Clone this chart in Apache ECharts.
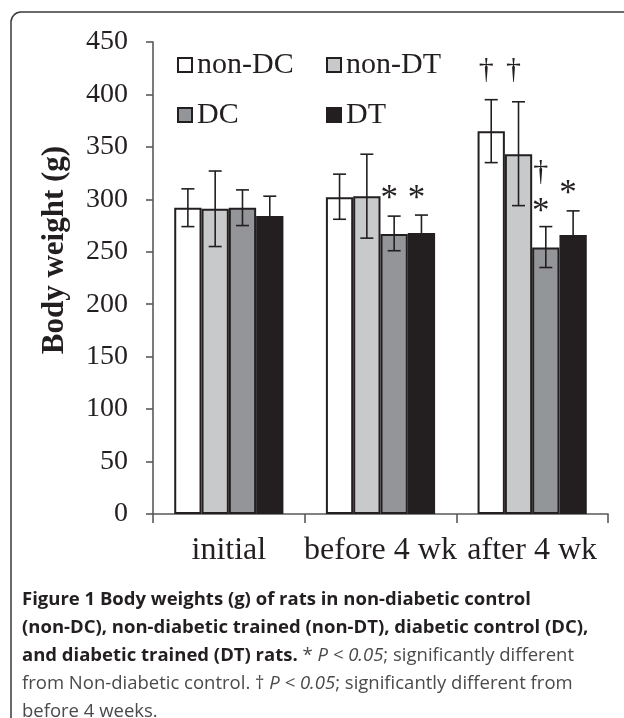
<!DOCTYPE html>
<html>
<head>
<meta charset="utf-8">
<script src="https://cdn.jsdelivr.net/npm/echarts@6/dist/echarts.min.js"></script>
<style>
  html, body { margin: 0; padding: 0; background: #fff; }
  #main { width: 624px; height: 718px; }
</style>
</head>
<body>
<div id="main"></div>
<script>
var categories = ['initial', 'before 4 wk', 'after 4 wk'];
var groups = ['non-DC', 'non-DT', 'DC', 'DT'];
var colors = ['#ffffff', '#c8c9cb', '#939598', '#231f20'];

// mean body weight (g)
var nonDC = [292, 302, 365];
var nonDT = [291, 303, 343];
var DC = [292, 267, 254];
var DT = [284, 268, 266];

// error bar ends [low, high]
var nonDCErr = [[274, 310], [281, 324], [335, 395]];
var nonDTErr = [[255, 327], [263, 343], [294, 393]];
var DCErr = [[275, 309], [251, 284], [235, 274]];
var DTErr = [[265, 303], [252, 285], [243, 289]];

// significance marks: [category, group, value, mark]
var marks = [
  [1, 2, 300, '*'], [1, 3, 300, '*'],
  [2, 0, 423, '\u2020'], [2, 1, 423, '\u2020'],
  [2, 2, 326, '\u2020'], [2, 2, 287, '*'], [2, 3, 304, '*']
];

var yTicks = { min: 0, max: 450, interval: 50 };

var values = [nonDC, nonDT, DC, DT];
var errs = [nonDCErr, nonDTErr, DCErr, DTErr];
var ink = '#231f20';
var serif = '"Liberation Serif", "Times New Roman", serif';
var sans = '"Open Sans", sans-serif';

var errData = [];
errs.forEach(function (arr, k) {
  arr.forEach(function (e, i) { errData.push([i, e[0], e[1], k]); });
});

function barOffset(api, k) {
  var band = api.size([1, 0])[0];
  var bw = band * 0.72 / 4;
  return (k - 1.5) * bw;
}

var series = values.map(function (v, k) {
  return {
    name: groups[k],
    type: 'bar',
    data: v,
    barGap: '0%',
    barCategoryGap: '28%',
    itemStyle: { color: colors[k], borderColor: ink, borderWidth: 2 },
    emphasis: { disabled: true }
  };
});

series.push({
  type: 'custom',
  z: 5,
  data: errData,
  renderItem: function (params, api) {
    var cat = api.value(0), k = api.value(3);
    var x = api.coord([cat, 0])[0] + barOffset(api, k);
    var y1 = api.coord([cat, api.value(1)])[1];
    var y2 = api.coord([cat, api.value(2)])[1];
    var h = 6.5;
    var st = { stroke: ink, lineWidth: 1.6 };
    return {
      type: 'group',
      children: [
        { type: 'line', shape: { x1: x, y1: y1, x2: x, y2: y2 }, style: st },
        { type: 'line', shape: { x1: x - h, y1: y1, x2: x + h, y2: y1 }, style: st },
        { type: 'line', shape: { x1: x - h, y1: y2, x2: x + h, y2: y2 }, style: st }
      ]
    };
  }
});

series.push({
  type: 'custom',
  z: 6,
  data: marks,
  renderItem: function (params, api) {
    var cat = api.value(0), k = api.value(1);
    var x = api.coord([cat, 0])[0] + barOffset(api, k) - 5;
    var y = api.coord([cat, api.value(2)])[1];
    var m = marks[params.dataIndex][3];
    return {
      type: 'text',
      x: x, y: y,
      style: {
        text: m,
        fontFamily: serif, fontSize: m === '*' ? 35 : 30, fill: ink,
        align: 'center', verticalAlign: 'middle'
      }
    };
  }
});

var legendText = { fontFamily: serif, fontSize: 30, color: ink, lineHeight: 30 };

var option = {
  backgroundColor: '#fff',
  animation: false,
  grid: { left: 153, right: 16, top: 42, bottom: 204 },
  legend: [
    { data: ['non-DC', 'DC'], orient: 'vertical', left: 172, top: 45,
      icon: 'rect', itemWidth: 14, itemHeight: 14, itemGap: 20,
      textStyle: legendText, selectedMode: false },
    { data: ['non-DT', 'DT'], orient: 'vertical', left: 321, top: 45,
      icon: 'rect', itemWidth: 14, itemHeight: 14, itemGap: 20,
      textStyle: legendText, selectedMode: false }
  ],
  xAxis: {
    type: 'category',
    data: categories,
    axisLine: { lineStyle: { color: '#58595b', width: 1.6 } },
    axisTick: { show: true, length: 9, lineStyle: { color: '#58595b', width: 1.6 } },
    axisLabel: { fontFamily: serif, fontSize: 32, color: ink, margin: 21,
      interval: 0, hideOverlap: false }
  },
  yAxis: {
    type: 'value',
    min: yTicks.min, max: yTicks.max, interval: yTicks.interval,
    splitLine: { show: false },
    axisLine: { show: true, lineStyle: { color: '#58595b', width: 1.6 } },
    axisTick: { show: true, length: 7, lineStyle: { color: '#58595b', width: 1.6 } },
    axisLabel: { fontFamily: serif, fontSize: 28, color: ink, margin: 25 }
  },
  graphic: [
    { type: 'rect', silent: true,
      shape: { x: 11, y: 12, width: 800, height: 800, r: [10, 0, 0, 0] },
      style: { fill: null, stroke: '#3a3a3a', lineWidth: 1.5 } },
    { type: 'text', x: 55, y: 250, rotation: Math.PI / 2,
      style: { text: 'Body weight (g)', fontFamily: serif, fontWeight: 'bold',
        fontSize: 31, fill: ink, align: 'center', verticalAlign: 'middle' } },
    { type: 'text', x: 22, y: 586,
      style: {
        text: [
          '{b|Figure 1 Body weights (g) of rats in non-diabetic control}',
          '{b|(non-DC), non-diabetic trained (non-DT), diabetic control (DC),}',
          '{b|and diabetic trained (DT) rats.}{n| * }{i|P < 0.05}{n|; significantly different}',
          '{n|from Non-diabetic control. \u2020 }{i|P < 0.05}{n|; significantly different from}',
          '{n|before 4 weeks.}'
        ].join('\n'),
        rich: {
          b: { fontFamily: sans, fontWeight: 'bold', fontSize: 18.5, lineHeight: 28, fill: ink },
          n: { fontFamily: sans, fontSize: 18.5, lineHeight: 28, fill: '#4a4a4a' },
          i: { fontFamily: sans, fontStyle: 'italic', fontSize: 18.5, lineHeight: 28, fill: '#4a4a4a' }
        }
      } }
  ],
  series: series
};

var myChart = echarts.init(document.getElementById('main'));
myChart.setOption(option);
</script>
</body>
</html>
